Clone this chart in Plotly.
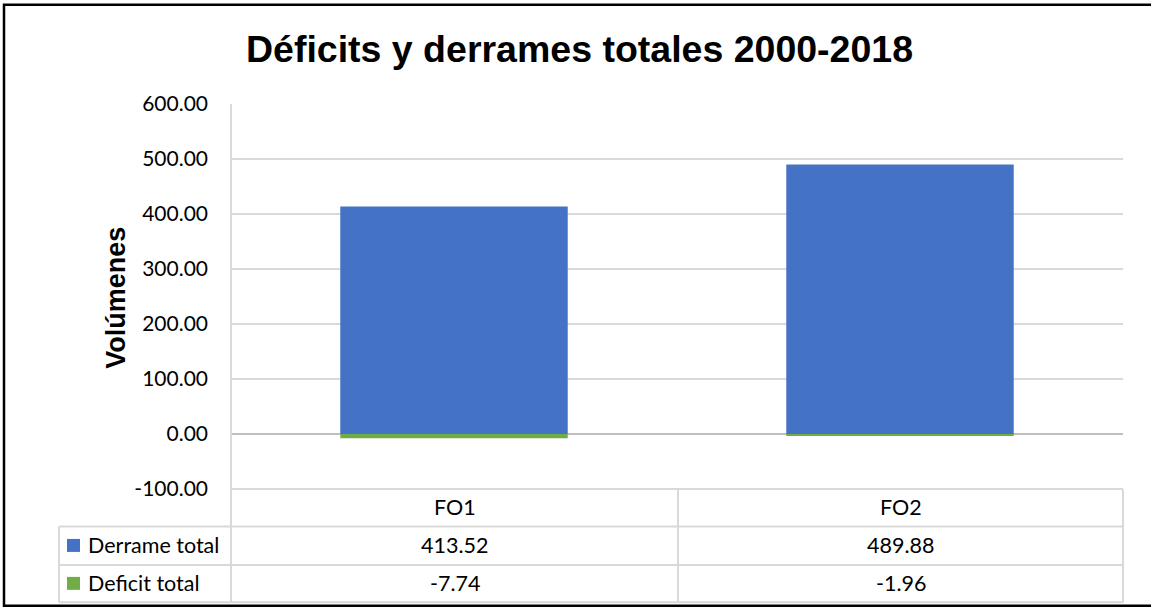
import plotly.graph_objects as go

categories = ["FO1", "FO2"]
derrame_total = [413.52, 489.88]
deficit_total = [-7.74, -1.96]
series_names = ["Derrame total", "Deficit total"]
series_colors = ["#4472c4", "#70ad47"]
y_ticks = [-100, 0, 100, 200, 300, 400, 500, 600]
y_tick_labels = [f"{v:.2f}" for v in y_ticks]

W, H = 1151, 609
PL, PR, PT, PB = 231, 1123, 104, 489.5


def xp(px):
    return (px - PL) / (PR - PL)


def yp(py):
    return (PB - py) / (PB - PT)


fig = go.Figure()
fig.add_trace(go.Bar(x=categories, y=derrame_total, name=series_names[0],
                     marker=dict(color=series_colors[0], line=dict(width=0))))
fig.add_trace(go.Bar(x=categories, y=deficit_total, name=series_names[1],
                     marker=dict(color=series_colors[1], line=dict(width=0))))

grid = "#d9d9d9"
font_body = "Lato, 'Open Sans', sans-serif"

shapes = []
# outer border
shapes.append(dict(type="rect", xref="paper", yref="paper",
                   x0=xp(4), x1=xp(1154), y0=yp(606.5), y1=yp(4.5),
                   line=dict(color="black", width=2.5), layer="below"))
# table lines
for py in [489.5, 527, 565.5, 603]:
    x0 = 59 if py > 500 else 231
    shapes.append(dict(type="line", xref="paper", yref="paper",
                       x0=xp(x0), x1=xp(1123), y0=yp(py), y1=yp(py),
                       line=dict(color=grid, width=2)))
shapes.append(dict(type="line", xref="paper", yref="paper",
                   x0=xp(59), x1=xp(59), y0=yp(527), y1=yp(603),
                   line=dict(color=grid, width=2)))
shapes.append(dict(type="line", xref="paper", yref="paper",
                   x0=xp(231), x1=xp(231), y0=yp(104), y1=yp(603),
                   line=dict(color=grid, width=2)))
for px in [678, 1123]:
    shapes.append(dict(type="line", xref="paper", yref="paper",
                       x0=xp(px), x1=xp(px), y0=yp(490), y1=yp(603),
                       line=dict(color=grid, width=2)))
# legend keys
for i, py in enumerate([546, 584]):
    shapes.append(dict(type="rect", xref="paper", yref="paper",
                       x0=xp(67), x1=xp(80), y0=yp(py + 6.5), y1=yp(py - 6.5),
                       fillcolor=series_colors[i], line=dict(width=0)))

annotations = []
row_y = [508, 546, 584]
col_x = [454.5, 900.5]
tfont = dict(family=font_body, size=21.5, color="black")
for j, c in enumerate(categories):
    annotations.append(dict(text=c, x=xp(col_x[j]), y=yp(row_y[0]), xref="paper", yref="paper",
                            showarrow=False, xanchor="center", yanchor="middle", font=tfont))
    annotations.append(dict(text=f"{derrame_total[j]:.2f}", x=xp(col_x[j]), y=yp(row_y[1]),
                            xref="paper", yref="paper", showarrow=False,
                            xanchor="center", yanchor="middle", font=tfont))
    annotations.append(dict(text=f"{deficit_total[j]:.2f}", x=xp(col_x[j]), y=yp(row_y[2]),
                            xref="paper", yref="paper", showarrow=False,
                            xanchor="center", yanchor="middle", font=tfont))
for i, name in enumerate(series_names):
    annotations.append(dict(text=name, x=xp(86), y=yp(row_y[i + 1]), xref="paper", yref="paper",
                            showarrow=False, xanchor="left", yanchor="middle", font=tfont))
# y-axis title
annotations.append(dict(text="<b>Volúmenes</b>", x=xp(116), y=yp(298), xref="paper", yref="paper",
                        showarrow=False, textangle=-90, xanchor="center", yanchor="middle",
                        font=dict(family="'Liberation Sans', Arial, sans-serif", size=27, color="black")))

fig.update_layout(
    width=W, height=H,
    margin=dict(l=PL, r=W - PR, t=PT, b=H - PB, pad=0),
    paper_bgcolor="white", plot_bgcolor="white",
    barmode="relative", bargap=0.49,
    showlegend=False,
    title=dict(text="<b>Déficits y derrames totales 2000-2018</b>",
               x=579.5 / W, xanchor="center", y=1 - 49 / H, yanchor="middle",
               xref="container", yref="container",
               font=dict(family="'Liberation Sans', Arial, sans-serif", size=37.5, color="black")),
    xaxis=dict(showticklabels=False, showgrid=False, zeroline=False, showline=False,
               ticks=""),
    yaxis=dict(range=[-100, 600], autorange=False, tickvals=y_ticks, ticktext=y_tick_labels,
               showgrid=True, gridcolor=grid, gridwidth=2,
               zeroline=True, zerolinecolor="#bfbfbf", zerolinewidth=2,
               showline=False, ticks="", ticklabelstandoff=22,
               tickfont=dict(family=font_body, size=21, color="black")),
    shapes=shapes, annotations=annotations,
)

fig.write_html("out.html", config={"displayModeBar": False},
               post_script="document.body.style.margin='0';document.body.style.overflow='hidden';")
